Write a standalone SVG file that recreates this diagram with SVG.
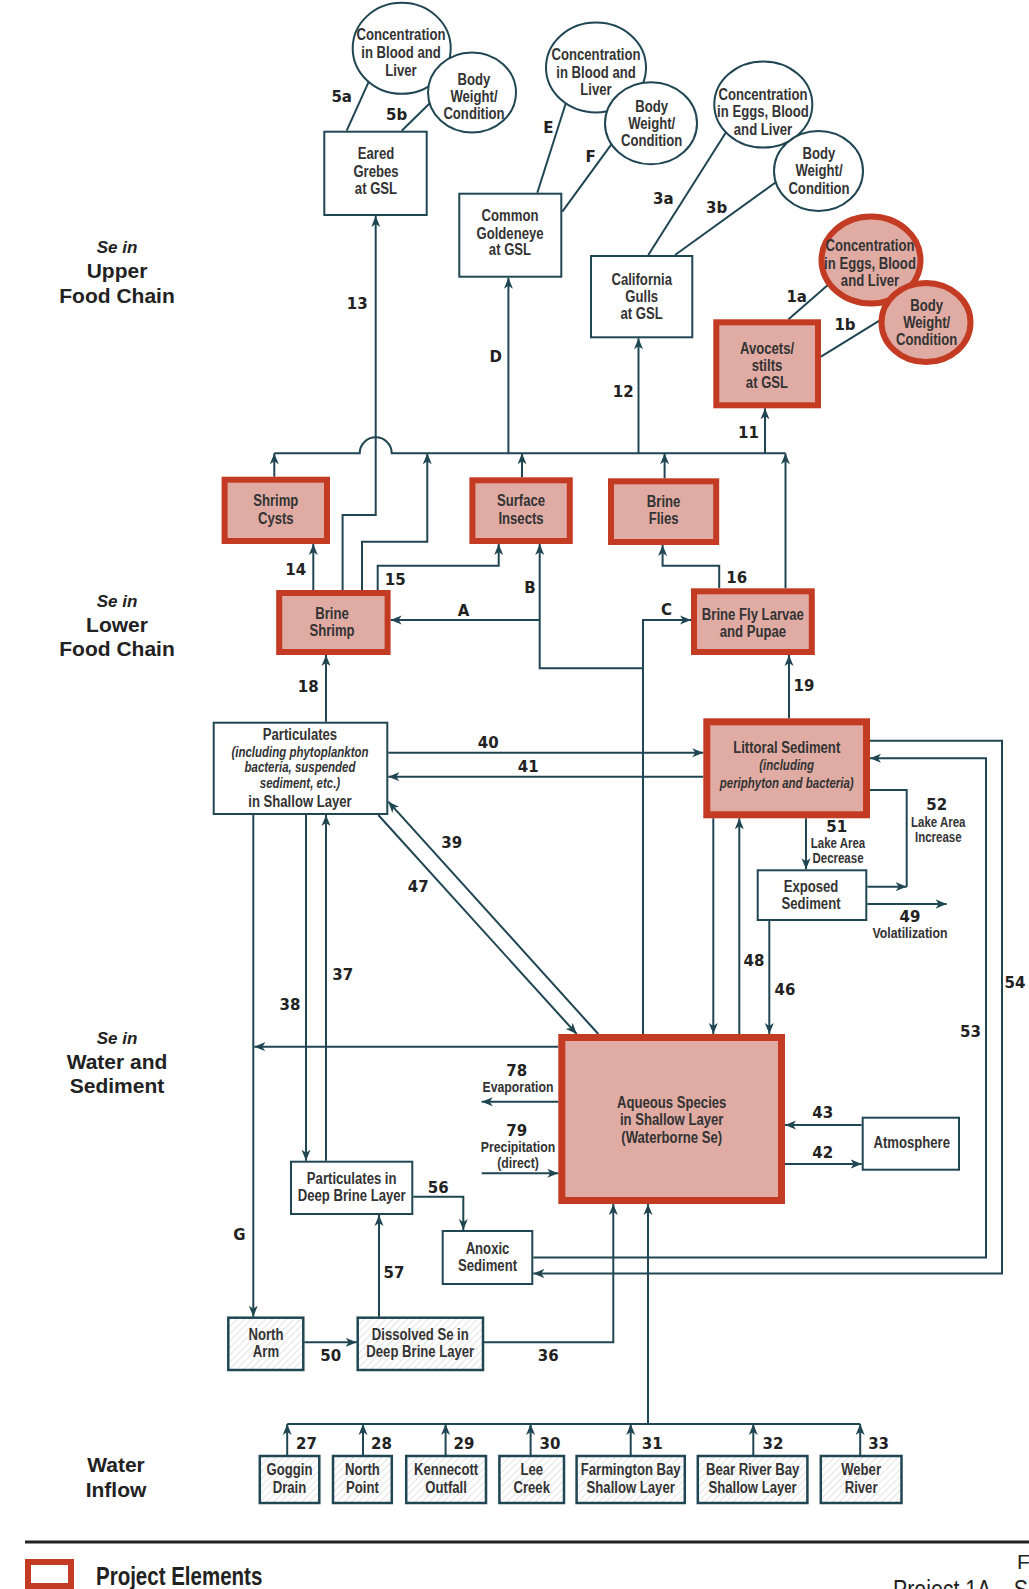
<svg xmlns="http://www.w3.org/2000/svg" width="1029" height="1589" viewBox="0 0 1029 1589">
<defs>
<marker id="ah" markerUnits="userSpaceOnUse" markerWidth="12" markerHeight="10" refX="11" refY="5" orient="auto"><path d="M0,0.5 L11,5 L0,9.5 L3,5 Z" fill="#1f4652"/></marker>
<pattern id="hatch" width="5" height="5" patternUnits="userSpaceOnUse" patternTransform="rotate(45)"><rect width="5" height="5" fill="#fff"/><line x1="0" y1="0" x2="0" y2="5" stroke="#dadada" stroke-width="1.5"/></pattern>
</defs>
<style>
.c{fill:none;stroke:#1f4652;stroke-width:2}
.a{marker-end:url(#ah)}
.bx{fill:#fff;stroke:#1f4652;stroke-width:2}
.hb{fill:url(#hatch);stroke:#1f4652;stroke-width:2.5}
.rb{fill:#dfaba3;stroke:#c23b22;stroke-width:6}
.t{font-family:"Liberation Sans",Arial,sans-serif;font-weight:bold;font-size:16px;fill:#333;text-anchor:middle;dominant-baseline:central}
.i{font-style:italic;font-size:14px}
.sm{font-size:14px}
.md{font-size:15px}
.n{font-family:"DejaVu Sans",sans-serif;font-weight:bold;font-size:15px;fill:#222;text-anchor:middle;dominant-baseline:central}
.h{font-family:"Liberation Sans",Arial,sans-serif;font-weight:bold;font-size:21px;fill:#222;text-anchor:middle}
.hi{font-style:italic;font-size:17px}
</style>
<rect width="1029" height="1589" fill="#fff"/>

<g id="headings">
<text class="h hi" x="117" y="253">Se in</text>
<text class="h" x="117" y="278">Upper</text>
<text class="h" x="117" y="303">Food Chain</text>
<text class="h hi" x="117" y="607">Se in</text>
<text class="h" x="117" y="631.5">Lower</text>
<text class="h" x="117" y="656">Food Chain</text>
<text class="h hi" x="117" y="1044">Se in</text>
<text class="h" x="117" y="1068.5">Water and</text>
<text class="h" x="117" y="1093">Sediment</text>
<text class="h" x="116" y="1472">Water</text>
<text class="h" x="116" y="1497">Inflow</text>
</g>

<g id="connectors">
<path class="c a" d="M346.7,130.7 L373.3,71.7"/>
<path class="c a" d="M401.7,130.7 L440,93.3"/>
<path class="c a" d="M342.6,590 V515 H375.7 V216"/>
<path class="c a" d="M537.3,192.7 L570,90"/>
<path class="c a" d="M562.3,211.7 L620.7,131.7"/>
<path class="c a" d="M508.4,453.3 V277.7"/>
<path class="c a" d="M648.3,255 L731.7,123.3"/>
<path class="c a" d="M675,255 L788.3,173.3"/>
<path class="c a" d="M638.5,453.3 V338.3"/>
<path class="c a" d="M788.3,319.5 L839.3,275"/>
<path class="c a" d="M821,356.7 L894,311.7"/>
<path class="c a" d="M765,453.3 V408.3"/>
<path class="c" d="M274.3,453.3 H359.7 A16,16 0 0 1 391.7,453.3 H785.5"/>
<path class="c a" d="M274.3,476.7 V453.3"/>
<path class="c a" d="M362,590 V541.7 H427.3 V453.3"/>
<path class="c a" d="M522,477.3 V453.3"/>
<path class="c a" d="M664.6,478.3 V453.3"/>
<path class="c a" d="M785.5,588.3 V453.3"/>
<path class="c a" d="M313.3,590 V544"/>
<path class="c a" d="M377.7,590 V565.7 H498.7 V544"/>
<path class="c a" d="M539.7,620 H390.6"/>
<path class="c a" d="M643,668.3 H539.7 V544"/>
<path class="c a" d="M643,1034 V620 H691"/>
<path class="c a" d="M719.2,588.3 V565.7 H662.6 V545"/>
<path class="c a" d="M326,721.7 V655"/>
<path class="c a" d="M789,718.3 V655"/>
<path class="c a" d="M388.3,752.7 H703.3"/>
<path class="c a" d="M703.3,776.7 H388.3"/>
<path class="c a" d="M598.3,1034 L388.3,801.7"/>
<path class="c a" d="M378.3,815 L576.7,1034"/>
<path class="c a" d="M253.3,815 V1316.7"/>
<path class="c a" d="M558.3,1046.7 H254.3"/>
<path class="c a" d="M306,815 V1160.7"/>
<path class="c a" d="M326,1160.7 V815"/>
<path class="c a" d="M713.3,818.3 V1034"/>
<path class="c a" d="M739.3,1034 V818.3"/>
<path class="c a" d="M806,818.3 V869.3"/>
<path class="c" d="M870,790 H906.7 V886.7"/>
<path class="c a" d="M867.3,886.7 H906.7"/>
<path class="c a" d="M867.3,904 H946.7"/>
<path class="c a" d="M769.3,921 V1034"/>
<path class="c a" d="M870,740.7 H1002 V1273.5 H533.3"/>
<path class="c a" d="M533.3,1257.5 H986 V758.3 H870"/>
<path class="c a" d="M861.7,1125 H785"/>
<path class="c a" d="M785,1164 H861.7"/>
<path class="c a" d="M558.3,1101.7 H481.7"/>
<path class="c a" d="M481.7,1173.3 H558.3"/>
<path class="c a" d="M413.3,1196.7 H463.3 V1230"/>
<path class="c a" d="M379,1316.7 V1215"/>
<path class="c a" d="M304.3,1342.3 H356.7"/>
<path class="c a" d="M484,1342.3 H613.3 V1204"/>
<path class="c a" d="M648,1424 V1204"/>
<path class="c" d="M287.2,1424 H860.2"/>
<path class="c a" d="M287.2,1455 V1424"/>
<path class="c a" d="M363,1455 V1424"/>
<path class="c a" d="M445.6,1455 V1424"/>
<path class="c a" d="M530.6,1455 V1424"/>
<path class="c a" d="M630.7,1455 V1424"/>
<path class="c a" d="M753.3,1455 V1424"/>
<path class="c a" d="M860.2,1455 V1424"/>
</g>

<g id="n-grebe-conc"><ellipse class="bx" cx="401.7" cy="48.3" rx="49" ry="45.5"/>
<g transform="matrix(.82 0 0 1 72.18 0)"><text class="t" x="401" y="35">Concentration</text><text class="t" x="401" y="53">in Blood and</text><text class="t" x="401" y="70.7">Liver</text></g></g>
<g id="n-grebe-bw"><ellipse class="bx" cx="472" cy="92.5" rx="44" ry="40"/>
<g transform="matrix(.82 0 0 1 85.32 0)"><text class="t" x="474" y="79.3">Body</text><text class="t" x="474" y="96.7">Weight/</text><text class="t" x="474" y="113.3">Condition</text></g></g>
<g id="n-grebes"><rect class="bx" x="324.3" y="131.7" width="102.4" height="83.3"/>
<g transform="matrix(.82 0 0 1 67.68 0)"><text class="t" x="376" y="154">Eared</text><text class="t" x="376" y="171.7">Grebes</text><text class="t" x="376" y="189">at GSL</text></g></g>

<g id="n-gold-conc"><ellipse class="bx" cx="596" cy="67.5" rx="50" ry="45"/>
<g transform="matrix(.82 0 0 1 107.28 0)"><text class="t" x="596" y="55">Concentration</text><text class="t" x="596" y="72.3">in Blood and</text><text class="t" x="596" y="90">Liver</text></g></g>
<g id="n-gold-bw"><ellipse class="bx" cx="651" cy="123.3" rx="46" ry="41"/>
<g transform="matrix(.82 0 0 1 117.31 0)"><text class="t" x="651.7" y="106.7">Body</text><text class="t" x="651.7" y="123.3">Weight/</text><text class="t" x="651.7" y="140.7">Condition</text></g></g>
<g id="n-goldeneye"><rect class="bx" x="459.3" y="193.7" width="102" height="83"/>
<g transform="matrix(.82 0 0 1 91.8 0)"><text class="t" x="510" y="216">Common</text><text class="t" x="510" y="233.3">Goldeneye</text><text class="t" x="510" y="250">at GSL</text></g></g>

<g id="n-gull-conc"><ellipse class="bx" cx="763.3" cy="104.5" rx="49" ry="43"/>
<g transform="matrix(.82 0 0 1 137.34 0)"><text class="t" x="763" y="94.3">Concentration</text><text class="t" x="763" y="112">in Eggs, Blood</text><text class="t" x="763" y="129.3">and Liver</text></g></g>
<g id="n-gull-bw"><ellipse class="bx" cx="818.5" cy="171" rx="44.5" ry="40"/>
<g transform="matrix(.82 0 0 1 147.42 0)"><text class="t" x="819" y="154">Body</text><text class="t" x="819" y="170.7">Weight/</text><text class="t" x="819" y="188.3">Condition</text></g></g>
<g id="n-gulls"><rect class="bx" x="591" y="256" width="101.3" height="81.3"/>
<g transform="matrix(.82 0 0 1 115.51 0)"><text class="t" x="641.7" y="279.3">California</text><text class="t" x="641.7" y="296.7">Gulls</text><text class="t" x="641.7" y="314">at GSL</text></g></g>

<g id="n-avo-conc"><ellipse class="rb" cx="871" cy="260" rx="49.5" ry="43.5"/>
<g transform="matrix(.82 0 0 1 156.6 0)"><text class="t" x="870" y="246">Concentration</text><text class="t" x="870" y="263.3">in Eggs, Blood</text><text class="t" x="870" y="280.7">and Liver</text></g></g>
<g id="n-avo-bw"><ellipse class="rb" cx="926" cy="322.5" rx="44.5" ry="39.5"/>
<g transform="matrix(.82 0 0 1 166.81 0)"><text class="t" x="926.7" y="306">Body</text><text class="t" x="926.7" y="322.7">Weight/</text><text class="t" x="926.7" y="339.3">Condition</text></g></g>
<g id="n-avocets"><rect class="rb" x="716.3" y="322.3" width="101.7" height="83"/>
<g transform="matrix(.82 0 0 1 138.06 0)"><text class="t" x="767" y="348.3">Avocets/</text><text class="t" x="767" y="365.7">stilts</text><text class="t" x="767" y="382.7">at GSL</text></g></g>

<g id="n-cysts"><rect class="rb" x="224.6" y="479.7" width="102.4" height="61.3"/>
<g transform="matrix(.82 0 0 1 49.64 0)"><text class="t" x="275.8" y="501">Shrimp</text><text class="t" x="275.8" y="518.3">Cysts</text></g></g>
<g id="n-insects"><rect class="rb" x="472.4" y="480.3" width="97.4" height="60.7"/>
<g transform="matrix(.82 0 0 1 93.78 0)"><text class="t" x="521" y="501">Surface</text><text class="t" x="521" y="518.3">Insects</text></g></g>
<g id="n-flies"><rect class="rb" x="611" y="481.3" width="105.2" height="60.7"/>
<g transform="matrix(.82 0 0 1 119.45 0)"><text class="t" x="663.6" y="501.7">Brine</text><text class="t" x="663.6" y="519">Flies</text></g></g>
<g id="n-shrimp"><rect class="rb" x="279.2" y="593" width="108.4" height="59"/>
<g transform="matrix(.82 0 0 1 59.76 0)"><text class="t" x="332" y="613.3">Brine</text><text class="t" x="332" y="630.7">Shrimp</text></g></g>
<g id="n-larvae"><rect class="rb" x="694" y="591.3" width="117.8" height="60.7"/>
<g transform="matrix(.82 0 0 1 135.52 0)"><text class="t" x="752.9" y="615">Brine Fly Larvae</text><text class="t" x="752.9" y="631.7">and Pupae</text></g></g>

<g id="n-particulates"><rect class="bx" x="213.7" y="722.7" width="173.6" height="91.3"/>
<g transform="matrix(.82 0 0 1 54 0)"><text class="t" x="300" y="735">Particulates</text>
<text class="t i" x="300" y="751.7">(including phytoplankton</text>
<text class="t i" x="300" y="767.3">bacteria, suspended</text>
<text class="t i" x="300" y="783.3">sediment, etc.)</text>
<text class="t" x="300" y="801.7">in Shallow Layer</text></g></g>
<g id="n-littoral"><rect class="rb" x="706.8" y="721.8" width="159.7" height="93" style="stroke-width:7"/>
<g transform="matrix(.82 0 0 1 141.61 0)"><text class="t" x="786.7" y="747.3">Littoral Sediment</text>
<text class="t i" x="786.7" y="765">(including</text>
<text class="t i" x="786.7" y="783.3">periphyton and bacteria)</text></g></g>
<g id="n-exposed"><rect class="bx" x="757.7" y="870.3" width="108.6" height="49.7"/>
<g transform="matrix(.82 0 0 1 145.98 0)"><text class="t" x="811" y="886.7">Exposed</text><text class="t" x="811" y="903.3">Sediment</text></g></g>
<g id="n-aqueous"><rect class="rb" x="561.8" y="1037.5" width="219.7" height="163" style="stroke-width:7"/>
<g transform="matrix(.82 0 0 1 120.91 0)"><text class="t" x="671.7" y="1102.3">Aqueous Species</text>
<text class="t" x="671.7" y="1120">in Shallow Layer</text>
<text class="t" x="671.7" y="1137.3">(Waterborne Se)</text></g></g>
<g id="n-atmosphere"><rect class="bx" x="862.7" y="1117.7" width="96.3" height="52"/>
<g transform="matrix(.82 0 0 1 164.11 0)"><text class="t" x="911.7" y="1142.7">Atmosphere</text></g></g>
<g id="n-deep-part"><rect class="bx" x="291" y="1161.7" width="121.3" height="52.3"/>
<g transform="matrix(.82 0 0 1 63.31 0)"><text class="t" x="351.7" y="1179">Particulates in</text><text class="t" x="351.7" y="1196">Deep Brine Layer</text></g></g>
<g id="n-anoxic"><rect class="bx" x="442.7" y="1231" width="89.6" height="53"/>
<g transform="matrix(.82 0 0 1 87.75 0)"><text class="t" x="487.5" y="1248.3">Anoxic</text><text class="t" x="487.5" y="1265.7">Sediment</text></g></g>
<g id="n-northarm"><rect class="hb" x="228.3" y="1317.7" width="75" height="52.3"/>
<g transform="matrix(.82 0 0 1 47.88 0)"><text class="t" x="266" y="1334.3">North</text><text class="t" x="266" y="1351.7">Arm</text></g></g>
<g id="n-dissolved"><rect class="hb" x="357.7" y="1317.7" width="125.3" height="52.3"/>
<g transform="matrix(.82 0 0 1 75.65 0)"><text class="t" x="420.3" y="1334.3">Dissolved Se in</text><text class="t" x="420.3" y="1351.7">Deep Brine Layer</text></g></g>

<g id="n-goggin"><rect class="hb" x="259.8" y="1456" width="59.5" height="47"/>
<g transform="matrix(.82 0 0 1 52.11 0)"><text class="t" x="289.5" y="1470">Goggin</text><text class="t" x="289.5" y="1487.3">Drain</text></g></g>
<g id="n-northpoint"><rect class="hb" x="333" y="1456" width="58.8" height="47"/>
<g transform="matrix(.82 0 0 1 65.23 0)"><text class="t" x="362.4" y="1470">North</text><text class="t" x="362.4" y="1487.3">Point</text></g></g>
<g id="n-kennecott"><rect class="hb" x="406.2" y="1456" width="79.8" height="47"/>
<g transform="matrix(.82 0 0 1 80.3 0)"><text class="t" x="446.1" y="1470">Kennecott</text><text class="t" x="446.1" y="1487.3">Outfall</text></g></g>
<g id="n-lee"><rect class="hb" x="499.4" y="1456" width="64.6" height="47"/>
<g transform="matrix(.82 0 0 1 95.71 0)"><text class="t" x="531.7" y="1470">Lee</text><text class="t" x="531.7" y="1487.3">Creek</text></g></g>
<g id="n-farmington"><rect class="hb" x="576.6" y="1456" width="108.2" height="47"/>
<g transform="matrix(.82 0 0 1 113.53 0)"><text class="t" x="630.7" y="1470">Farmington Bay</text><text class="t" x="630.7" y="1487.3">Shallow Layer</text></g></g>
<g id="n-bearriver"><rect class="hb" x="697.8" y="1456" width="109.6" height="47"/>
<g transform="matrix(.82 0 0 1 135.47 0)"><text class="t" x="752.6" y="1470">Bear River Bay</text><text class="t" x="752.6" y="1487.3">Shallow Layer</text></g></g>
<g id="n-weber"><rect class="hb" x="820.8" y="1456" width="80.7" height="47"/>
<g transform="matrix(.82 0 0 1 155 0)"><text class="t" x="861.1" y="1470">Weber</text><text class="t" x="861.1" y="1487.3">River</text></g></g>

<g id="labels">
<text class="n" x="341.7" y="96.7">5a</text><text class="n" x="396.7" y="115">5b</text>
<text class="n" x="357.3" y="304">13</text><text class="n" x="548.3" y="128.3">E</text>
<text class="n" x="590.7" y="156.7">F</text><text class="n" x="495.7" y="357">D</text>
<text class="n" x="663.3" y="199">3a</text><text class="n" x="716.7" y="208.3">3b</text>
<text class="n" x="623.3" y="392.3">12</text><text class="n" x="796.7" y="296.7">1a</text>
<text class="n" x="845" y="325">1b</text><text class="n" x="748.5" y="433">11</text>
<text class="n" x="295.7" y="570">14</text><text class="n" x="395.2" y="580">15</text>
<text class="n" x="529.9" y="588.3">B</text><text class="n" x="463.5" y="610.7">A</text>
<text class="n" x="666.5" y="610">C</text><text class="n" x="736.8" y="578.3">16</text>
<text class="n" x="308.3" y="686.7">18</text><text class="n" x="804" y="686">19</text>
<text class="n" x="488.3" y="743.3">40</text><text class="n" x="528.3" y="767.3">41</text>
<text class="n" x="451.7" y="843.3">39</text><text class="n" x="418.3" y="887.3">47</text>
<text class="n" x="342.7" y="975">37</text><text class="n" x="290" y="1005">38</text>
<text class="n" x="836.7" y="826.7">51</text>
<g transform="matrix(.82 0 0 1 150.84 0)"><text class="t sm" x="838" y="843.3">Lake Area</text><text class="t sm" x="838" y="858.3">Decrease</text></g>
<text class="n" x="936.7" y="805">52</text>
<g transform="matrix(.82 0 0 1 168.89 0)"><text class="t sm" x="938.3" y="822.3">Lake Area</text><text class="t sm" x="938.3" y="836.7">Increase</text></g>
<text class="n" x="910" y="916.7">49</text>
<g transform="matrix(.82 0 0 1 163.8 0)"><text class="t md" x="910" y="933.3">Volatilization</text></g>
<text class="n" x="754" y="960.7">48</text><text class="n" x="785" y="990">46</text>
<text class="n" x="1015" y="983.3">54</text><text class="n" x="970.5" y="1032">53</text>
<text class="n" x="516.7" y="1070.7">78</text>
<text class="n" x="516.7" y="1130.7">79</text>
<g transform="matrix(.82 0 0 1 93.24 0)"><text class="t md" x="518" y="1087.3">Evaporation</text><text class="t md" x="518" y="1147.3">Precipitation</text><text class="t md" x="518" y="1163.3">(direct)</text></g>
<text class="n" x="822.7" y="1113.3">43</text><text class="n" x="822.7" y="1152.7">42</text>
<text class="n" x="438.3" y="1188.3">56</text><text class="n" x="394" y="1273.3">57</text>
<text class="n" x="239.3" y="1235">G</text><text class="n" x="330.7" y="1356">50</text>
<text class="n" x="548.3" y="1356">36</text>
<text class="n" x="306.5" y="1444">27</text><text class="n" x="381.4" y="1444">28</text>
<text class="n" x="464" y="1444">29</text><text class="n" x="549.9" y="1444">30</text>
<text class="n" x="652.2" y="1444">31</text><text class="n" x="773" y="1444">32</text>
<text class="n" x="878.6" y="1444">33</text>
</g>

<g id="legend">
<line x1="25" y1="1542" x2="1029" y2="1542" stroke="#222" stroke-width="3"/>
<rect x="28" y="1562" width="43" height="24" fill="#fff" stroke="#c23b22" stroke-width="6"/>
<g transform="matrix(.82 0 0 1 17.28 0)"><text class="t" x="96" y="1576" style="text-anchor:start;font-size:25px;fill:#222">Project Elements</text></g>
<text class="t" x="1017" y="1569" style="text-anchor:start;font-weight:normal;font-size:21px;fill:#222;dominant-baseline:auto">F</text>
<g transform="matrix(.82 0 0 1 160.74 0)"><text class="t" x="893" y="1598" style="text-anchor:start;font-weight:normal;font-size:26px;fill:#222;dominant-baseline:auto">Project 1A – S</text></g>
</g>
</svg>
